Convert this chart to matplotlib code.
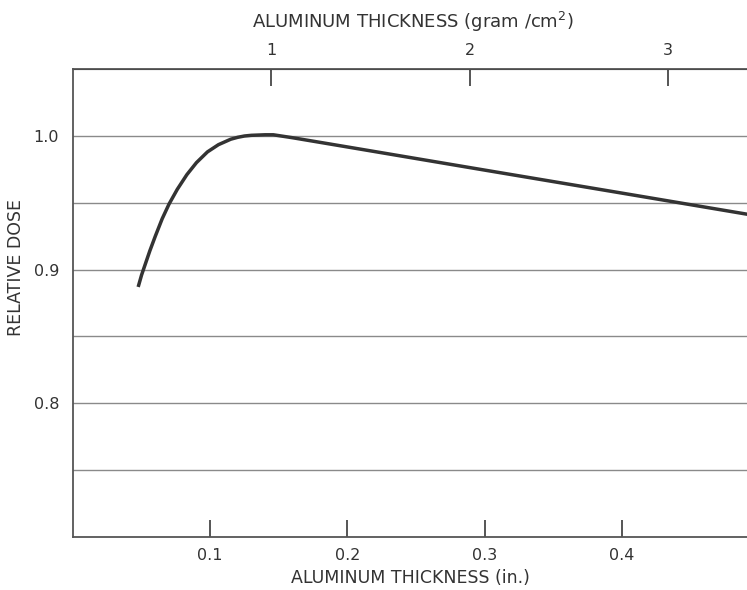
import numpy as np
import matplotlib.pyplot as plt

# dose vs. absorber thickness, read in inches of aluminum
thickness_in = [0.0475, 0.050, 0.053, 0.056, 0.060, 0.065, 0.070, 0.076, 0.083,
                0.090, 0.098, 0.106, 0.115, 0.120, 0.125, 0.130, 0.135, 0.140,
                0.146, 0.153, 0.160, 0.200, 0.300, 0.400, 0.500]
relative_dose = [0.887, 0.896, 0.905, 0.914, 0.925, 0.938, 0.949, 0.960, 0.971,
                 0.980, 0.988, 0.9934, 0.9975, 0.9989, 0.9999, 1.0004, 1.0006, 1.0008,
                 1.0008, 0.9997, 0.9986, 0.9917, 0.9744, 0.9572, 0.9399]

bottom_ticks = [0.1, 0.2, 0.3, 0.4]
bottom_labels = ['0.1', '0.2', '0.3', '0.4']
top_ticks = [1, 2, 3]
y_labels_at = [0.8, 0.9, 1.0]
grid_levels = [0.75, 0.80, 0.85, 0.90, 0.95, 1.00]

# inches of aluminum per gram/cm^2
IN_PER_G = 0.1445

ink = '#333333'
plt.rcParams['font.family'] = ['DejaVu Sans']

fig = plt.figure(figsize=(7.47, 5.90), dpi=100)
ax = fig.add_axes([73 / 747, 53 / 590, 686 / 747, 468 / 590])

for lv in grid_levels:
    ax.axhline(lv, color='#8a8a8a', lw=1.0, zorder=1)

ax.plot(thickness_in, relative_dose, color=ink, lw=2.5, solid_capstyle='butt',
        solid_joinstyle='round', zorder=3)

ax.set_xlim(0, 0.5)
ax.set_ylim(0.70, 1.05)

for s in ax.spines.values():
    s.set_color('#555555')
    s.set_linewidth(1.3)

ax.set_xticks(bottom_ticks)
ax.set_xticklabels(bottom_labels)
ax.tick_params(axis='x', direction='in', length=12, width=1.4, color='#555555',
               labelsize=11.5, labelcolor=ink, pad=8)
ax.set_yticks(y_labels_at)
ax.set_yticklabels(['0.8', '0.9', '1.0'])
ax.tick_params(axis='y', length=0, labelsize=11.5, labelcolor=ink, pad=10)

top = ax.secondary_xaxis('top', functions=(lambda x: x / IN_PER_G, lambda g: g * IN_PER_G))
top.set_xticks(top_ticks)
top.tick_params(direction='in', length=12, width=1.4, color='#555555',
                labelsize=11.5, labelcolor=ink, pad=8)

# axis titles placed directly in figure pixels
fig.text(410 / 747, 1 - 578 / 590, 'ALUMINUM THICKNESS (in.)', fontsize=12.5,
         color=ink, ha='center', va='center')
fig.text(413 / 747, 1 - 22 / 590, 'ALUMINUM THICKNESS (gram /cm$^2$)', fontsize=13,
         color=ink, ha='center', va='center')
fig.text(16 / 747, 1 - 268 / 590, 'RELATIVE DOSE', rotation=90, fontsize=12.5,
         color=ink, ha='center', va='center')

fig.savefig('out.png', dpi=100)
